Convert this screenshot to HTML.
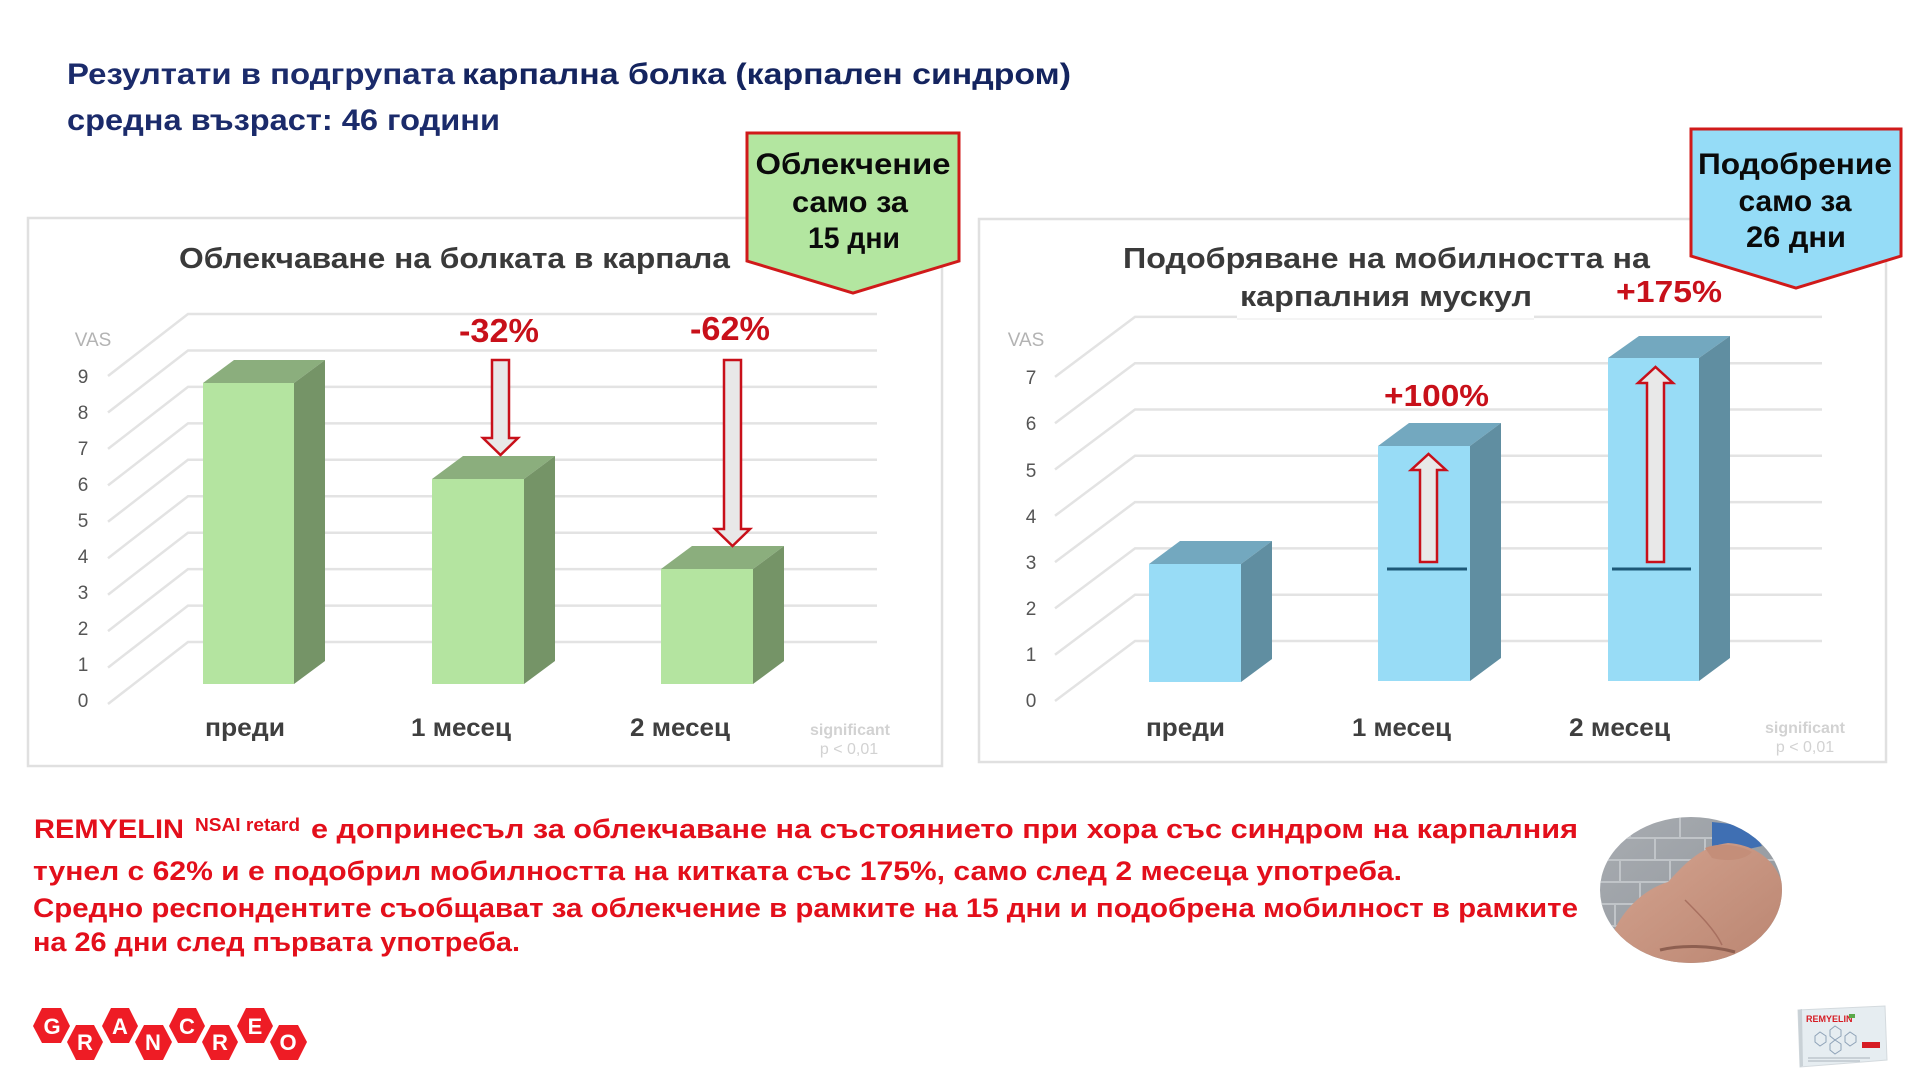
<!DOCTYPE html>
<html>
<head>
<meta charset="utf-8">
<style>
  html,body{margin:0;padding:0;background:#ffffff;}
  body{width:1920px;height:1080px;overflow:hidden;}
  svg{display:block;}
</style>
</head>
<body>
<svg width="1920" height="1080" viewBox="0 0 1920 1080" xmlns="http://www.w3.org/2000/svg" font-family="'Liberation Sans', 'DejaVu Sans', sans-serif">
  <rect x="0" y="0" width="1920" height="1080" fill="#ffffff"/>

  <!-- Main title -->
  <text x="67" y="84" font-size="30" font-weight="bold" fill="#1b2b6b" textLength="388" lengthAdjust="spacingAndGlyphs">Резултати в подгрупата</text>
  <text x="462" y="84" font-size="30" font-weight="bold" fill="#14245f" textLength="609" lengthAdjust="spacingAndGlyphs">карпална болка (карпален синдром)</text>
  <text x="67" y="130" font-size="30" font-weight="bold" fill="#1b2b6b" textLength="433" lengthAdjust="spacingAndGlyphs">средна възраст: 46 години</text>

  <!-- Panels -->
  <rect x="28" y="218" width="914" height="548" fill="#ffffff" stroke="#e0e0e0" stroke-width="2.5"/>
  <rect x="979" y="219" width="907" height="543" fill="#ffffff" stroke="#e0e0e0" stroke-width="2.5"/>

  <!-- LEFT CHART gridlines -->
  <g fill="none" stroke="#e3e3e3" stroke-width="2.5">
    <path d="M108 704 L188 642 H877"/>
    <path d="M108 667.6 L188 605.6 H877"/>
    <path d="M108 631.1 L188 569.1 H877"/>
    <path d="M108 594.7 L188 532.7 H877"/>
    <path d="M108 558.2 L188 496.2 H877"/>
    <path d="M108 521.8 L188 459.8 H877"/>
    <path d="M108 485.4 L188 423.4 H877"/>
    <path d="M108 448.9 L188 386.9 H877"/>
    <path d="M108 412.5 L188 350.5 H877"/>
    <path d="M108 376 L188 314 H877"/>
  </g>
  <g font-size="19" fill="#555555" text-anchor="middle">
    <text x="83" y="707">0</text>
    <text x="83" y="671">1</text>
    <text x="83" y="635">2</text>
    <text x="83" y="599">3</text>
    <text x="83" y="563">4</text>
    <text x="83" y="527">5</text>
    <text x="83" y="491">6</text>
    <text x="83" y="455">7</text>
    <text x="83" y="419">8</text>
    <text x="83" y="383">9</text>
  </g>
  <text x="93" y="346" font-size="19" fill="#b3b3b3" text-anchor="middle">VAS</text>

  <!-- Left bars -->
  <g>
    <polygon points="203,383 234,360 325,360 294,383" fill="#8bae7d"/>
    <polygon points="294,383 325,360 325,661 294,684" fill="#759467"/>
    <rect x="203" y="383" width="91" height="301" fill="#b4e4a0"/>

    <polygon points="432,479 463,456 555,456 524,479" fill="#8bae7d"/>
    <polygon points="524,479 555,456 555,661 524,684" fill="#759467"/>
    <rect x="432" y="479" width="92" height="205" fill="#b4e4a0"/>

    <polygon points="661,569 692,546 784,546 753,569" fill="#8bae7d"/>
    <polygon points="753,569 784,546 784,661 753,684" fill="#759467"/>
    <rect x="661" y="569" width="92" height="115" fill="#b4e4a0"/>
  </g>

  <!-- Left arrows (down) -->
  <polygon points="492,360 509,360 509,438 518,438 500.5,455 483,438 492,438" fill="#e8e8e8" stroke="#c8101a" stroke-width="2.5" stroke-linejoin="miter"/>
  <polygon points="724,360 741,360 741,529 750,529 732.5,546 715,529 724,529" fill="#e8e8e8" stroke="#c8101a" stroke-width="2.5" stroke-linejoin="miter"/>

  <text x="459" y="342" font-size="33" font-weight="bold" fill="#c8101a" textLength="80" lengthAdjust="spacingAndGlyphs">-32%</text>
  <text x="690" y="340" font-size="33" font-weight="bold" fill="#c8101a" textLength="80" lengthAdjust="spacingAndGlyphs">-62%</text>

  <!-- Left chart title -->
  <text x="179" y="268" font-size="29" font-weight="bold" fill="#3a3a3a" textLength="551" lengthAdjust="spacingAndGlyphs">Облекчаване на болката в карпала</text>

  <!-- Left categories -->
  <g font-size="25" font-weight="bold" fill="#3f3f3f">
    <text x="205" y="736" textLength="80" lengthAdjust="spacingAndGlyphs">преди</text>
    <text x="411" y="736" textLength="100" lengthAdjust="spacingAndGlyphs">1 месец</text>
    <text x="630" y="736" textLength="100" lengthAdjust="spacingAndGlyphs">2 месец</text>
  </g>
  <g font-size="16" font-weight="bold" fill="#d2d2d2" text-anchor="middle">
    <text x="850" y="735">significant</text>
    <text x="849" y="754" font-weight="normal">p &lt; 0,01</text>
  </g>

  <!-- Green badge -->
  <polygon points="747,133 959,133 959,261 853,293 747,261" fill="#b3e6a0" stroke="#d01a1a" stroke-width="3"/>
  <g font-size="30" fill="#0a0a0a" font-weight="bold" text-anchor="middle">
    <text x="853" y="174" textLength="195" lengthAdjust="spacingAndGlyphs">Облекчение</text>
    <text x="850" y="212" textLength="116" lengthAdjust="spacingAndGlyphs">само за</text>
    <text x="854" y="248" textLength="92" lengthAdjust="spacingAndGlyphs">15 дни</text>
  </g>

  <!-- RIGHT CHART gridlines -->
  <g fill="none" stroke="#e3e3e3" stroke-width="2.5">
    <path d="M1055 701 L1135 641 H1822"/>
    <path d="M1055 654.7 L1135 594.7 H1822"/>
    <path d="M1055 608.4 L1135 548.4 H1822"/>
    <path d="M1055 562.1 L1135 502.1 H1822"/>
    <path d="M1055 515.8 L1135 455.8 H1822"/>
    <path d="M1055 469.5 L1135 409.5 H1822"/>
    <path d="M1055 423.2 L1135 363.2 H1822"/>
    <path d="M1055 376.9 L1135 316.9 H1822"/>
  </g>
  <g font-size="19" fill="#555555" text-anchor="middle">
    <text x="1031" y="707">0</text>
    <text x="1031" y="661">1</text>
    <text x="1031" y="615">2</text>
    <text x="1031" y="569">3</text>
    <text x="1031" y="523">4</text>
    <text x="1031" y="477">5</text>
    <text x="1031" y="430">6</text>
    <text x="1031" y="384">7</text>
  </g>
  <text x="1026" y="346" font-size="19" fill="#b3b3b3" text-anchor="middle">VAS</text>

  <!-- white box behind right title line 2 -->
  <rect x="1237" y="275" width="297" height="44" fill="#ffffff"/>
  <line x1="1237" y1="319" x2="1534" y2="319" stroke="#f0f0f0" stroke-width="1.5"/>

  <!-- Right title -->
  <text x="1123" y="268" font-size="29" font-weight="bold" fill="#3a3a3a" textLength="527" lengthAdjust="spacingAndGlyphs">Подобряване на мобилността на</text>
  <text x="1240" y="306" font-size="29" font-weight="bold" fill="#3a3a3a" textLength="292" lengthAdjust="spacingAndGlyphs">карпалния мускул</text>

  <!-- Right bars -->
  <g>
    <polygon points="1149,564 1180,541 1272,541 1241,564" fill="#73a8bf"/>
    <polygon points="1241,564 1272,541 1272,659 1241,682" fill="#608ea1"/>
    <rect x="1149" y="564" width="92" height="118" fill="#98dcf6"/>

    <polygon points="1378,446 1409,423 1501,423 1470,446" fill="#73a8bf"/>
    <polygon points="1470,446 1501,423 1501,658 1470,681" fill="#608ea1"/>
    <rect x="1378" y="446" width="92" height="235" fill="#98dcf6"/>

    <polygon points="1608,358 1639,336 1730,336 1699,358" fill="#73a8bf"/>
    <polygon points="1699,358 1730,336 1730,658 1699,681" fill="#608ea1"/>
    <rect x="1608" y="358" width="91" height="323" fill="#98dcf6"/>
  </g>
  <line x1="1387" y1="569" x2="1467" y2="569" stroke="#1d5877" stroke-width="3"/>
  <line x1="1612" y1="569" x2="1691" y2="569" stroke="#1d5877" stroke-width="3"/>

  <!-- Right arrows (up) -->
  <polygon points="1420,562 1437,562 1437,470 1446,470 1428.5,454 1411,470 1420,470" fill="#e8e8e8" stroke="#c8101a" stroke-width="2.5"/>
  <polygon points="1647,562 1664,562 1664,383 1673,383 1655.5,367 1638,383 1647,383" fill="#e8e8e8" stroke="#c8101a" stroke-width="2.5"/>

  <text x="1384" y="406" font-size="31" font-weight="bold" fill="#c8101a" textLength="105" lengthAdjust="spacingAndGlyphs">+100%</text>
  <text x="1616" y="302" font-size="31" font-weight="bold" fill="#c8101a" textLength="106" lengthAdjust="spacingAndGlyphs">+175%</text>

  <!-- Right categories -->
  <g font-size="25" font-weight="bold" fill="#3f3f3f">
    <text x="1146" y="736" textLength="79" lengthAdjust="spacingAndGlyphs">преди</text>
    <text x="1352" y="736" textLength="99" lengthAdjust="spacingAndGlyphs">1 месец</text>
    <text x="1569" y="736" textLength="101" lengthAdjust="spacingAndGlyphs">2 месец</text>
  </g>
  <g font-size="16" font-weight="bold" fill="#d2d2d2" text-anchor="middle">
    <text x="1805" y="733">significant</text>
    <text x="1805" y="752" font-weight="normal">p &lt; 0,01</text>
  </g>

  <!-- Blue badge -->
  <polygon points="1691,129 1901,129 1901,256 1796,288 1691,256" fill="#95dcf7" stroke="#d01a1a" stroke-width="3"/>
  <g font-size="30" fill="#0a0a0a" font-weight="bold" text-anchor="middle">
    <text x="1795" y="174" textLength="194" lengthAdjust="spacingAndGlyphs">Подобрение</text>
    <text x="1795" y="211" textLength="113" lengthAdjust="spacingAndGlyphs">само за</text>
    <text x="1796" y="247" textLength="100" lengthAdjust="spacingAndGlyphs">26 дни</text>
  </g>

  <!-- Bottom red text -->
  <g font-weight="bold" fill="#e30f1b">
    <text x="34" y="838" font-size="27" textLength="150" lengthAdjust="spacingAndGlyphs">REMYELIN</text>
    <text x="195" y="831" font-size="18" textLength="105" lengthAdjust="spacingAndGlyphs">NSAI retard</text>
    <text x="311" y="838" font-size="27" textLength="1267" lengthAdjust="spacingAndGlyphs">е допринесъл за облекчаване на състоянието при хора със синдром на карпалния</text>
    <text x="33" y="880" font-size="27" textLength="1369" lengthAdjust="spacingAndGlyphs">тунел с 62% и е подобрил мобилността на китката със 175%, само след 2 месеца употреба.</text>
    <text x="33" y="917" font-size="27" textLength="1545" lengthAdjust="spacingAndGlyphs">Средно респондентите съобщават за облекчение в рамките на 15 дни и подобрена мобилност в рамките</text>
    <text x="33" y="951" font-size="27" textLength="487" lengthAdjust="spacingAndGlyphs">на 26 дни след първата употреба.</text>
  </g>

  <!-- Hand photo approximation -->
  <defs>
    <clipPath id="handclip">
      <ellipse cx="1691" cy="890" rx="91" ry="73"/>
    </clipPath>
    <linearGradient id="wall" x1="0" y1="0" x2="1" y2="1">
      <stop offset="0" stop-color="#a9adb2"/>
      <stop offset="1" stop-color="#8e9399"/>
    </linearGradient>
    <linearGradient id="skin" x1="0" y1="0" x2="1" y2="1">
      <stop offset="0" stop-color="#d4a38f"/>
      <stop offset="1" stop-color="#b98470"/>
    </linearGradient>
  </defs>
  <g clip-path="url(#handclip)">
    <rect x="1595" y="812" width="195" height="155" fill="url(#wall)"/>
    <g stroke="#c0c4c8" stroke-width="2" fill="none">
      <path d="M1595 838 H1790 M1595 860 H1790 M1595 882 H1790 M1595 904 H1790 M1595 926 H1790 M1595 948 H1790"/>
      <path d="M1630 817 V838 M1680 817 V838 M1655 838 V860 M1705 838 V860 M1620 860 V882 M1670 860 V882 M1640 882 V904 M1615 904 V926 M1650 926 V948"/>
    </g>
    <path d="M1712 822 L1750 826 L1762 846 L1735 852 L1712 846 Z" fill="#3f6fb3"/>
    <path d="M1612 935 C1625 905 1648 888 1668 882 C1688 860 1703 846 1728 843 C1762 845 1787 870 1784 905 C1782 937 1762 962 1742 972 L1655 974 C1636 962 1622 948 1612 935 Z" fill="url(#skin)"/>
    <path d="M1705 848 C1720 842 1740 845 1752 852 C1745 860 1728 862 1712 858 Z" fill="#c48e79"/>
    <path d="M1660 950 C1680 945 1710 945 1735 952" stroke="#8e5f50" stroke-width="3" fill="none"/>
    <path d="M1685 900 C1700 915 1715 930 1722 945" stroke="#a87060" stroke-width="1.5" fill="none"/>
  </g>

  <!-- GRANCREO logo -->
  <g fill="#ee1c25">
    <polygon points="33,1026 42,1008 61,1008 70,1026 61,1043 42,1043"/>
    <polygon points="67,1042 76,1025 94,1025 103,1042 94,1060 76,1060"/>
    <polygon points="102,1026 111,1008 129,1008 138,1026 129,1043 111,1043"/>
    <polygon points="135,1042 144,1025 163,1025 172,1042 163,1060 144,1060"/>
    <polygon points="169,1026 178,1008 196,1008 205,1026 196,1043 178,1043"/>
    <polygon points="202,1042 211,1025 229,1025 238,1042 229,1060 211,1060"/>
    <polygon points="237,1026 246,1008 264,1008 273,1026 264,1043 246,1043"/>
    <polygon points="270,1042 279,1025 298,1025 307,1042 298,1060 279,1060"/>
  </g>
  <g font-size="22" font-weight="bold" fill="#ffffff" text-anchor="middle">
    <text x="52" y="1034">G</text>
    <text x="85" y="1050">R</text>
    <text x="120" y="1034">A</text>
    <text x="153" y="1050">N</text>
    <text x="187" y="1034">C</text>
    <text x="220" y="1050">R</text>
    <text x="255" y="1034">E</text>
    <text x="288" y="1050">O</text>
  </g>

  <!-- Product box -->
  <g>
    <polygon points="1798,1010 1885,1006 1887,1060 1800,1067" fill="#e6edf1" stroke="#d4dade" stroke-width="1"/>
    <polygon points="1798,1010 1802,1009 1803,1066 1800,1067" fill="#c9d1d6"/>
    <text x="1806" y="1022" font-size="9" font-weight="bold" fill="#d61c24">REMYELIN</text>
    <rect x="1849" y="1014" width="6" height="4" fill="#5aa84a"/>
    <g fill="none" stroke="#8fa3b8" stroke-width="1">
      <polygon points="1815,1036 1820,1032 1826,1036 1826,1042 1820,1046 1815,1042"/>
      <polygon points="1830,1030 1835,1026 1841,1030 1841,1036 1835,1040 1830,1036"/>
      <polygon points="1845,1036 1850,1032 1856,1036 1856,1042 1850,1046 1845,1042"/>
      <polygon points="1830,1044 1835,1040 1841,1044 1841,1050 1835,1054 1830,1050"/>
    </g>
    <rect x="1862" y="1042" width="18" height="6" fill="#d61c24"/>
    <path d="M1808 1058 H1870" stroke="#aab4bc" stroke-width="1"/>
    <path d="M1808 1061 H1860" stroke="#aab4bc" stroke-width="1"/>
  </g>
</svg>
</body>
</html>
